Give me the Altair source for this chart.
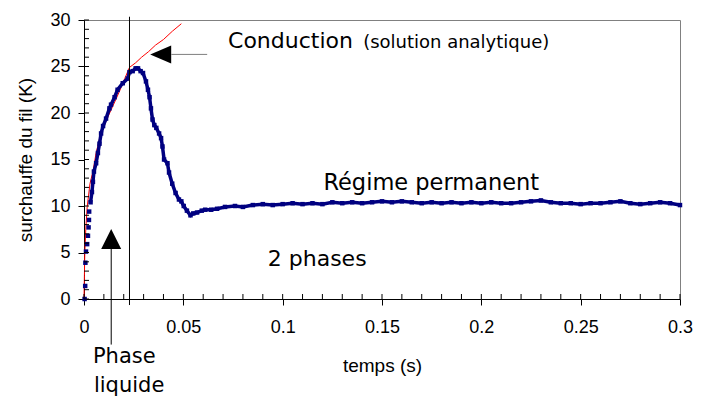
import altair as alt
import pandas as pd

# --- data ---
blue_t = [0.0003, 0.0006, 0.0007, 0.0010, 0.0016, 0.0020, 0.0023, 0.0025, 0.0026, 0.0033,
          0.0040, 0.0045, 0.0050, 0.0061, 0.0070, 0.0078, 0.0086, 0.0096, 0.0111, 0.0128,
          0.0136, 0.0154, 0.0169, 0.0195, 0.0220, 0.0229, 0.0245, 0.0260, 0.0272, 0.0285,
          0.0297, 0.0312, 0.0322, 0.0330, 0.0337, 0.0345, 0.0354, 0.0364, 0.0378, 0.0388,
          0.0395, 0.0403, 0.0420, 0.0428, 0.0444, 0.0461, 0.0478, 0.0490, 0.0502, 0.0518,
          0.0536, 0.0550, 0.0569, 0.0593, 0.0610, 0.0640, 0.0670, 0.0710, 0.0760, 0.0800,
          0.0850, 0.0900, 0.0950, 0.1000, 0.1050, 0.1100, 0.1150, 0.1200, 0.1250, 0.1300,
          0.1350, 0.1400, 0.1450, 0.1500, 0.1550, 0.1600, 0.1650, 0.1700, 0.1750, 0.1800,
          0.1850, 0.1900, 0.1950, 0.2000, 0.2050, 0.2100, 0.2150, 0.2200, 0.2250, 0.2300,
          0.2350, 0.2400, 0.2450, 0.2500, 0.2550, 0.2600, 0.2650, 0.2700, 0.2750, 0.2800,
          0.2850, 0.2900, 0.2950, 0.3000]
blue_y = [0.0, 1.4, 3.9, 5.1, 5.9, 6.8, 7.7, 8.5, 9.4, 10.4,
          11.5, 12.6, 13.7, 14.6, 15.7, 16.7, 17.8, 18.6, 19.4, 20.5,
          20.9, 21.7, 22.5, 23.2, 23.7, 24.4, 24.5, 24.8, 24.8, 24.5,
          24.3, 23.4, 22.5, 21.7, 20.5, 19.3, 18.7, 18.4, 17.8, 17.3,
          16.4, 15.0, 14.6, 13.6, 12.4, 11.4, 10.7, 10.5, 10.0, 9.5,
          9.0, 9.2, 9.3, 9.5, 9.6, 9.6, 9.7, 9.9, 10.0, 9.9,
          10.1, 10.2, 10.1, 10.2, 10.3, 10.2, 10.3, 10.2, 10.4, 10.3,
          10.4, 10.3, 10.4, 10.5, 10.4, 10.5, 10.4, 10.3, 10.4, 10.3,
          10.4, 10.3, 10.4, 10.3, 10.4, 10.3, 10.3, 10.4, 10.5, 10.6,
          10.4, 10.3, 10.3, 10.2, 10.3, 10.3, 10.4, 10.5, 10.3, 10.2,
          10.3, 10.4, 10.3, 10.1]

red_t = [0.0, 0.0002, 0.0004, 0.0009, 0.0016, 0.0030, 0.0046, 0.0060, 0.0080, 0.0105,
         0.0129, 0.0155, 0.0180, 0.0205, 0.0229, 0.0260, 0.0290, 0.0325, 0.0360, 0.0400,
         0.0445, 0.0490]
red_y = [0.0, 2.5, 4.9, 7.5, 9.9, 12.4, 13.8, 15.6, 17.4, 18.8,
         20.0, 21.2, 22.4, 23.7, 24.9, 25.4, 26.0, 26.6, 27.3, 27.9,
         28.8, 29.6]

x_ticks = [0, 0.05, 0.1, 0.15, 0.2, 0.25, 0.3]
y_ticks = [0, 5, 10, 15, 20, 25, 30]
x_minor = [round(i * 0.01, 2) for i in range(31)]
y_minor = list(range(31))

phase_line_t = 0.0229
up_arrow_t = 0.0137
left_arrow_t = 0.0386
left_arrow_y = 26.3

ann_text = ["Conduction", "(solution analytique)", "Régime permanent", "2 phases", "Phase", "liquide"]
ann_t = [0.0725, 0.1405, 0.1205, 0.0925, 0.0045, 0.0050]
ann_y = [27.0, 27.0, 11.7, 3.5, -6.9, -10.0]
ann_size = [22, 18, 22.5, 22, 21, 21]

# --- tables ---
blue = pd.DataFrame({"t": blue_t, "y": blue_y})
red = pd.DataFrame({"t": red_t, "y": red_y})
ann = pd.DataFrame({"t": ann_t, "y": ann_y, "label": ann_text, "fs": ann_size})

W, H = 596, 279

xs = alt.Scale(domain=[0, 0.3], nice=False, zero=False)
ys = alt.Scale(domain=[0, 30], nice=False, zero=False)
xaxis = alt.Axis(values=x_ticks, format="~g", title="temps (s)", grid=False,
                 tickSize=6, labelPadding=13, titleX=W / 2, titleY=66,
                 titleBaseline="middle", titleFontSize=19, labelFlush=False,
                 labelOverlap=False)
yaxis = alt.Axis(values=y_ticks, title="surchauffe du fil (K)", grid=False,
                 tickSize=6, labelPadding=8, titleX=-59, titleY=H / 2,
                 titleBaseline="middle", titleAngle=270, titleFontSize=19,
                 labelFlush=False, labelOverlap=False)


def X(field="t"):
    return alt.X(field + ":Q", scale=xs, axis=xaxis)


def Y(field="y"):
    return alt.Y(field + ":Q", scale=ys, axis=yaxis)


red_line = alt.Chart(red).mark_line(color="#ff0000", strokeWidth=1).encode(x=X(), y=Y())
blue_line = alt.Chart(blue[blue.t > 0.003]).mark_line(color="#000080", strokeWidth=3.5).encode(x=X(), y=Y())
blue_pts = alt.Chart(blue).mark_square(color="#000080", size=20, opacity=1).encode(x=X(), y=Y())

xminor = alt.Chart(pd.DataFrame({"t": x_minor})).mark_rule(color="black", strokeWidth=1).encode(
    x=X(), y=alt.value(H), y2=alt.value(H - 5))
yminor = alt.Chart(pd.DataFrame({"y": y_minor})).mark_rule(color="black", strokeWidth=1).encode(
    y=Y(), x=alt.value(0), x2=alt.value(5))

vline = alt.Chart(pd.DataFrame({"t": [phase_line_t], "y": [30.35], "y2": [-0.65]})).mark_rule(
    color="black", strokeWidth=1).encode(x=X(), y=Y(), y2="y2:Q")

up_line = alt.Chart(pd.DataFrame({"t": [up_arrow_t], "y": [5.5], "y2": [-4.9]})).mark_rule(
    color="black", strokeWidth=1).encode(x=X(), y=Y(), y2="y2:Q")
up_head = alt.Chart(pd.DataFrame({"t": [up_arrow_t], "y": [6.45]})).mark_point(
    shape="M0,-1L-1,1L1,1Z", size=400, filled=True, color="black", opacity=1).encode(x=X(), y=Y())

left_line = alt.Chart(pd.DataFrame({"t": [0.0440], "t2": [0.0620], "y": [left_arrow_y]})).mark_rule(
    color="#7f7f7f", strokeWidth=1).encode(x=X(), x2="t2:Q", y=Y())
left_head = alt.Chart(pd.DataFrame({"t": [left_arrow_t], "y": [left_arrow_y]})).mark_point(
    shape="M-1,0L1,-0.86L1,0.86Z", size=441, filled=True, color="black", opacity=1).encode(x=X(), y=Y())

texts = alt.Chart(ann).mark_text(align="left", baseline="alphabetic", font="DejaVu Sans",
                                 color="black").encode(
    x=X(), y=Y(), text="label:N", size=alt.Size("fs:Q", scale=None, legend=None))

chart = alt.layer(
    red_line, blue_line, blue_pts, xminor, yminor, vline, up_line, up_head,
    left_line, left_head, texts
).properties(
    width=W, height=H,
    autosize=alt.AutoSizeParams(type="none"),
    padding={"left": 76, "top": 12, "right": 14, "bottom": 99},
    background="white",
).configure_view(
    stroke="#808080", strokeWidth=1
).configure_axis(
    labelFont="Liberation Sans", labelFontSize=18, labelColor="black",
    titleFont="Liberation Sans", titleFontWeight="normal", titleColor="black",
    domainColor="black", tickColor="black", domainWidth=1, tickWidth=1,
)

chart.save("out.html", embed_options={"renderer": "svg", "actions": False})
